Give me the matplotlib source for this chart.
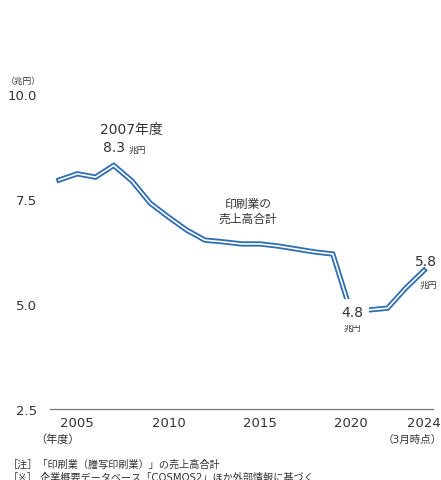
import matplotlib
matplotlib.use("Agg")
import matplotlib.pyplot as plt

plt.rcParams['font.family'] = ['DejaVu Sans', 'Noto Sans CJK JP']

years = [2004, 2005, 2006, 2007, 2008, 2009, 2010, 2011, 2012, 2013, 2014,
         2015, 2016, 2017, 2018, 2019, 2020, 2021, 2022, 2023, 2024]
sales = [7.95, 8.10, 8.02, 8.30, 7.93, 7.40, 7.07, 6.76, 6.52, 6.48, 6.43,
         6.43, 6.38, 6.31, 6.24, 6.19, 4.80, 4.86, 4.90, 5.38, 5.80]
xticks = [2005, 2010, 2015, 2020, 2024]
yticks = [2.5, 5.0, 7.5, 10.0]
ytick_labels = ['2.5', '5.0', '7.5', '10.0']

TXT = '#333333'
BLUE = '#2f6db3'

W, H = 441, 481
fig = plt.figure(figsize=(W / 100, H / 100), dpi=100)
ax = fig.add_axes([50 / W, (H - 410) / H, (433 - 50) / W, (410 - 95) / H])

ax.plot(years, sales, color=BLUE, lw=3.8, solid_joinstyle='miter', zorder=3)
ax.plot(years, sales, color='white', lw=1.2, solid_joinstyle='miter', zorder=4)

ax.set_xlim(2003.51, 2024.49)
ax.set_ylim(2.5, 10.0)
for s in ['top', 'right', 'left']:
    ax.spines[s].set_visible(False)
ax.spines['bottom'].set_color('#777777')
ax.spines['bottom'].set_linewidth(0.9)
ax.set_xticks(xticks)
ax.set_xticklabels([str(x) for x in xticks], fontsize=9.5, color=TXT)
ax.set_yticks(yticks)
ax.set_yticklabels(ytick_labels, fontsize=9.5, color=TXT)
ax.tick_params(axis='both', length=0)
ax.tick_params(axis='y', pad=9.5)
ax.tick_params(axis='x', pad=5)

def fx(px):
    return px / W
def fy(py):
    return 1 - py / H

# title (cut off at top)
fig.text(fx(246), fy(-2), '印刷業の売上高合計の推移', fontsize=15, color='#2f62b5',
         ha='center', va='baseline')

fig.text(fx(23), fy(81), '（兆円）', fontsize=6.3, color=TXT, ha='center', va='center')

# annotations
fig.text(fx(131), fy(130), '2007年度', fontsize=10, color=TXT, ha='center', va='center')
fig.text(fx(114), fy(148), '8.3', fontsize=10, color=TXT, ha='center', va='center')
fig.text(fx(137), fy(150), '兆円', fontsize=6.3, color=TXT, ha='center', va='center')

fig.text(fx(248), fy(204), '印刷業の', fontsize=8.5, color=TXT, ha='center', va='center')
fig.text(fx(248), fy(219), '売上高合計', fontsize=8.5, color=TXT, ha='center', va='center')

fig.text(fx(352), fy(313), '4.8', fontsize=10, color=TXT, ha='center', va='center', zorder=10,
         bbox=dict(facecolor='white', edgecolor='none', pad=4))
fig.text(fx(352), fy(328), '兆円', fontsize=6.3, color=TXT, ha='center', va='center')

fig.text(fx(426), fy(262), '5.8', fontsize=10, color=TXT, ha='center', va='center')
fig.text(fx(428), fy(285), '兆円', fontsize=6.3, color=TXT, ha='center', va='center')

fig.text(fx(58), fy(440), '（年度）', fontsize=8, color=TXT, ha='center', va='center')
fig.text(fx(412), fy(440), '（3月時点）', fontsize=7.6, color=TXT, ha='center', va='center')

fig.text(fx(8), fy(465), '［注］「印刷業（謄写印刷業）」の売上高合計', fontsize=7.3, color=TXT,
         ha='left', va='center')
fig.text(fx(8), fy(478), '［※］ 企業概要データベース「COSMOS2」ほか外部情報に基づく', fontsize=7.3,
         color=TXT, ha='left', va='center')

fig.savefig('out.png', dpi=100)
